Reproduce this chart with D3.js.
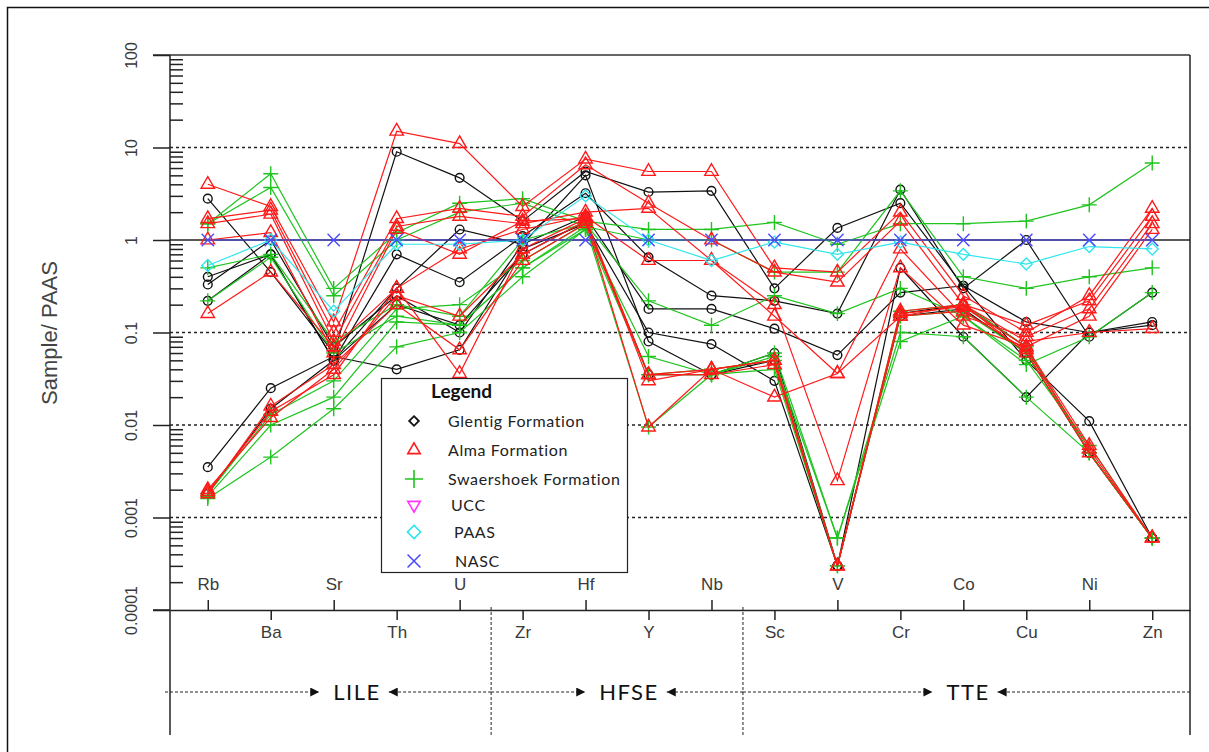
<!DOCTYPE html>
<html>
<head>
<meta charset="utf-8">
<title>Spider diagram normalised to PAAS</title>
<script src="https://cdn.jsdelivr.net/npm/d3@7"></script>
<style>
  body { margin: 0; background: #fff; }
  svg { display: block; }
</style>
</head>
<body>
<script>
// Elements along the x axis (normalised to PAAS)
var elements = ["Rb", "Ba", "Sr", "Th", "U", "Zr", "Hf", "Y", "Nb", "Sc", "V", "Cr", "Co", "Cu", "Ni", "Zn"];

// Glentig Formation samples
var glentig = [
  [2.8, 0.45, 0.06, 9.0, 4.7, 1.6, 5.5, 3.3, 3.4, 0.3, 1.35, 2.5, 0.32, 0.13, 0.1, 0.12],
  [0.4, 0.7, 0.05, 0.7, 0.35, 1.1, 3.2, 0.65, 0.25, 0.22, 0.16, 3.5, 0.3, 1.0, 0.09, 0.27],
  [0.33, 1.0, 0.07, 0.25, 0.1, 0.9, 1.8, 0.18, 0.18, 0.11, 0.057, 0.27, 0.32, 0.05, 0.011, 0.0006],
  [0.0035, 0.025, 0.055, 0.04, 0.065, 0.8, 1.5, 0.1, 0.075, 0.03, 0.0003, 0.5, 0.09, 0.02, 0.1, 0.13],
  [0.0018, 0.015, 0.05, 0.2, 0.12, 0.7, 1.6, 0.035, 0.035, 0.05, 0.0003, 0.16, 0.2, 0.07, 0.005, 0.0006],
  [0.22, 0.7, 0.05, 0.3, 1.3, 0.9, 5.0, 0.08, 0.035, 0.06, 0.0003, 0.15, 0.18, 0.06, 0.005, 0.0006]
];

// Alma Formation samples
var alma = [
  [4.0, 2.3, 0.13, 15, 11, 2.3, 7.5, 5.5, 5.5, 0.5, 0.45, 2.0, 0.25, 0.1, 0.25, 2.2],
  [1.7, 2.1, 0.1, 1.7, 2.2, 1.8, 6.5, 2.5, 1.0, 0.45, 0.35, 1.6, 0.2, 0.12, 0.22, 1.8],
  [1.5, 1.9, 0.08, 1.4, 1.8, 1.5, 2.0, 2.2, 0.6, 0.15, 0.036, 0.8, 0.15, 0.09, 0.18, 1.5],
  [0.16, 0.45, 0.07, 0.3, 0.8, 1.3, 1.8, 0.6, 0.6, 0.2, 0.0025, 0.5, 0.12, 0.07, 0.15, 1.3],
  [1.0, 1.2, 0.06, 1.3, 0.7, 1.6, 1.7, 0.03, 0.04, 0.02, 0.036, 0.15, 0.2, 0.08, 0.1, 0.11],
  [0.002, 0.012, 0.04, 0.25, 0.15, 0.7, 1.6, 0.0095, 0.04, 0.05, 0.0003, 0.16, 0.19, 0.07, 0.006, 0.0006],
  [0.0019, 0.014, 0.035, 0.3, 0.036, 0.8, 1.7, 0.035, 0.035, 0.045, 0.0003, 0.17, 0.2, 0.06, 0.005, 0.0006],
  [0.0018, 0.016, 0.045, 0.2, 0.065, 0.6, 1.5, 0.035, 0.04, 0.05, 0.0003, 0.15, 0.17, 0.065, 0.0055, 0.0006]
];

// Swaershoek Formation samples
var swaershoek = [
  [1.5, 5.2, 0.3, 1.2, 2.5, 2.8, 1.6, 1.3, 1.3, 1.55, 0.9, 1.5, 1.5, 1.6, 2.4, 6.8],
  [1.5, 3.7, 0.25, 1.0, 2.0, 2.5, 1.4, 1.0, 1.0, 0.45, 0.45, 3.4, 0.4, 0.3, 0.4, 0.5],
  [0.5, 0.7, 0.08, 0.2, 0.15, 1.0, 1.5, 0.22, 0.12, 0.25, 0.16, 0.3, 0.15, 0.045, 0.09, 0.27],
  [0.22, 0.65, 0.06, 0.15, 0.12, 0.5, 1.3, 0.055, 0.035, 0.06, 0.0006, 0.1, 0.09, 0.02, 0.005, 0.0006],
  [0.0016, 0.0045, 0.015, 0.07, 0.1, 0.4, 1.3, 0.035, 0.04, 0.05, 0.0006, 0.08, 0.15, 0.05, 0.006, 0.0006],
  [0.0017, 0.01, 0.02, 0.13, 0.12, 0.5, 1.4, 0.0095, 0.035, 0.04, 0.0003, 0.15, 0.17, 0.06, 0.005, 0.0006],
  [0.0018, 0.013, 0.03, 0.18, 0.2, 0.6, 1.5, 0.035, 0.035, 0.055, 0.0003, 0.17, 0.2, 0.07, 0.005, 0.0006]
];

// Reference compositions
var paas = [0.53, 1.0, 0.17, 0.9, 0.9, 1.0, 3.0, 1.0, 0.6, 0.95, 0.7, 0.95, 0.7, 0.55, 0.85, 0.8];
var nasc = [1, 1, 1, 1, 1, 1, 1, 1, 1, 1, 1, 1, 1, 1, 1, 1];

// Y axis ticks and their labels
var yTicks = [0.0001, 0.001, 0.01, 0.1, 1, 10, 100];
var yTickLabels = ["0.0001", "0.001", "0.01", "0.1", "1", "10", "100"];

// Element groups: name, first and last element index
var groupNames = ["LILE", "HFSE", "TTE"];
var groupStart = [0, 5, 9];
var groupEnd = [4, 8, 15];

// Legend entries
var legendNames = ["Glentig Formation", "Alma Formation", "Swaershoek Formation", "UCC", "PAAS", "NASC"];

// Set sizes
var width = 1209, height = 752;
var plot = {left: 170, right: 1190, top: 55, bottom: 610};

var svg = d3.select("body").append("svg")
    .attr("width", width)
    .attr("height", height);

// Outer picture frame
svg.append("path")
    .attr("d", "M7.5,760V7.5H1215")
    .attr("fill", "none")
    .attr("stroke", "#111")
    .attr("stroke-width", 1.5);

// Scales
var x = d3.scaleLinear().domain([-0.6, 15.6]).range([plot.left, plot.right]);
var y = d3.scaleLog().domain([0.0001, 100]).range([plot.bottom, plot.top]);

// Horizontal reference lines
var grid = svg.append("g");
grid.selectAll("line")
    .data(yTicks.filter(function(d) { return d > 0.0001 && d < 100; }))
    .enter().append("line")
    .attr("x1", plot.left).attr("x2", plot.right)
    .attr("y1", function(d) { return y(d); })
    .attr("y2", function(d) { return y(d); })
    .attr("stroke", "#222")
    .attr("stroke-width", function(d) { return d === 1 ? 1.3 : 1.6; })
    .attr("stroke-dasharray", function(d) { return d === 1 ? null : "3,3"; });

// Top border of the plot
svg.append("line")
    .attr("x1", plot.left - 17).attr("x2", plot.right)
    .attr("y1", plot.top).attr("y2", plot.top)
    .attr("stroke", "#333").attr("stroke-width", 1.5);

// Y axis, major ticks outside
var yAxis = d3.axisLeft(y)
    .tickValues(yTicks)
    .tickSize(17)
    .tickSizeOuter(0)
    .tickFormat(function(d, i) { return yTickLabels[i]; });
var yAxisG = svg.append("g")
    .attr("transform", "translate(" + plot.left + ",0)")
    .call(yAxis);
yAxisG.select(".domain").remove();
yAxisG.selectAll("line").attr("stroke", "#222").attr("stroke-width", 1.5);
yAxisG.selectAll(".tick text")
    .attr("x", 0).attr("y", 0).attr("dy", "0.35em")
    .attr("transform", "translate(-39,0) rotate(-90)")
    .attr("text-anchor", "middle")
    .style("font-family", "'Liberation Sans', Arial, sans-serif")
    .style("font-size", "16px")
    .attr("fill", "#3a3a3a");

// Minor ticks inside the plot
var minorTicks = [];
yTicks.slice(0, -1).forEach(function(dec) {
  for (var m = 2; m <= 9; m++) minorTicks.push(dec * m);
});
var minorAxis = d3.axisRight(y)
    .tickValues(minorTicks)
    .tickSize(13)
    .tickSizeOuter(0)
    .tickFormat("");
var minorG = svg.append("g")
    .attr("transform", "translate(" + plot.left + ",0)")
    .call(minorAxis);
minorG.select(".domain").remove();
minorG.selectAll("line").attr("stroke", "#222").attr("stroke-width", 1.5);

// Y axis title
svg.append("text")
    .attr("transform", "translate(57,333) rotate(-90)")
    .attr("text-anchor", "middle")
    .style("font-family", "'Liberation Sans', Arial, sans-serif")
    .style("font-size", "22px")
    .attr("fill", "#444")
    .text("Sample/ PAAS");

// Vertical frame lines, running down below the axis
svg.append("line")
    .attr("x1", plot.left).attr("x2", plot.left)
    .attr("y1", plot.top).attr("y2", 735)
    .attr("stroke", "#222").attr("stroke-width", 1.5);
svg.append("line")
    .attr("x1", plot.right).attr("x2", plot.right)
    .attr("y1", plot.top).attr("y2", 735)
    .attr("stroke", "#222").attr("stroke-width", 1.5);

// Dashed separators between element groups
svg.selectAll(".sep")
    .data(groupEnd.slice(0, -1))
    .enter().append("line")
    .attr("class", "sep")
    .attr("x1", function(d) { return x(d + 0.5); })
    .attr("x2", function(d) { return x(d + 0.5); })
    .attr("y1", plot.bottom - 3).attr("y2", 735)
    .attr("stroke", "#222").attr("stroke-width", 1)
    .attr("stroke-dasharray", "3,2");

// Series lines and markers
var line = d3.line()
    .x(function(d, i) { return x(i); })
    .y(function(d) { return y(d); });

var symTri = d3.symbolTriangle2 || d3.symbolTriangle;
var symPlus = d3.symbolPlus || d3.symbolCross;
var symTimes = d3.symbolTimes || d3.symbolX || d3.symbolCross;
var symDiamond = d3.symbolDiamond2 || d3.symbolDiamond;

function drawSeries(rows, color, type, size, rotate) {
  var g = svg.append("g");
  rows.forEach(function(row) {
    g.append("path")
      .attr("d", line(row))
      .attr("fill", "none")
      .attr("stroke", color)
      .attr("stroke-width", 1.2);
  });
  rows.forEach(function(row) {
    g.selectAll(null)
      .data(row)
      .enter().append("path")
      .attr("d", d3.symbol().type(type).size(size))
      .attr("transform", function(d, i) {
        return "translate(" + x(i) + "," + y(d) + ")" + (rotate ? " rotate(" + rotate + ")" : "");
      })
      .attr("fill", "none")
      .attr("stroke", color)
      .attr("stroke-width", 1.4);
  });
}

drawSeries(glentig, "#111", d3.symbolCircle, 60);
drawSeries(swaershoek, "#1fc41f", symPlus, 75);
drawSeries(alma, "#ff1a1a", symTri, 130);
drawSeries([paas], "#2ee6ec", symDiamond, 90);
drawSeries([nasc], "#4a4aff", symTimes, 100, 0);

// X axis: labels alternate above and below the axis line
var topIdx = d3.range(0, elements.length, 2);
var botIdx = d3.range(1, elements.length, 2);

var xTop = d3.axisTop(x)
    .tickValues(topIdx)
    .tickSize(10)
    .tickSizeOuter(0)
    .tickPadding(10)
    .tickFormat(function(d) { return elements[d]; });
var xBot = d3.axisBottom(x)
    .tickValues(botIdx)
    .tickSize(10)
    .tickSizeOuter(0)
    .tickPadding(6)
    .tickFormat(function(d) { return elements[d]; });

var xTopG = svg.append("g").attr("transform", "translate(0," + plot.bottom + ")").call(xTop);
var xBotG = svg.append("g").attr("transform", "translate(0," + plot.bottom + ")").call(xBot);
xTopG.select(".domain").remove();
xBotG.select(".domain").attr("stroke", "#222").attr("stroke-width", 1.5);
[xTopG, xBotG].forEach(function(g) {
  g.selectAll("line").attr("stroke", "#222").attr("stroke-width", 1.5);
  g.selectAll("text")
    .style("font-family", "'Liberation Sans', Arial, sans-serif")
    .style("font-size", "17px")
    .attr("fill", "#3a3a3a");
});

// Extension of the bottom axis line to the left (0.0001 tick)
svg.append("line")
    .attr("x1", plot.left - 17).attr("x2", plot.left)
    .attr("y1", plot.bottom).attr("y2", plot.bottom)
    .attr("stroke", "#222").attr("stroke-width", 1.5);

// Group labels with dashed arrows
var defs = svg.append("defs");
defs.append("marker")
    .attr("id", "arrow")
    .attr("viewBox", "0 0 10 10")
    .attr("refX", 10).attr("refY", 5)
    .attr("markerWidth", 11).attr("markerHeight", 9)
    .attr("markerUnits", "userSpaceOnUse")
    .attr("orient", "auto")
    .append("path")
    .attr("d", "M0,0L10,5L0,10Z")
    .attr("fill", "#111");

var groupCenter = [357, 629, 968];
var arrowY = 692;
var groupLeft = [165, x(4.5), x(8.5)];
var groupRight = [x(4.5), x(8.5), plot.right];

groupNames.forEach(function(name, k) {
  var t = svg.append("text")
      .attr("x", groupCenter[k])
      .attr("y", arrowY)
      .attr("dy", "0.35em")
      .attr("text-anchor", "middle")
      .style("font-family", "Lato, 'Open Sans', sans-serif")
      .style("font-size", "22px")
      .style("letter-spacing", "1.5px")
      .attr("fill", "#111")
      .text(name);
  var w = t.node().getComputedTextLength();
  svg.append("line")
      .attr("x1", groupLeft[k]).attr("x2", groupCenter[k] - w / 2 - 14)
      .attr("y1", arrowY).attr("y2", arrowY)
      .attr("stroke", "#222").attr("stroke-width", 1)
      .attr("stroke-dasharray", "3,2")
      .attr("marker-end", "url(#arrow)");
  svg.append("line")
      .attr("x1", groupRight[k]).attr("x2", groupCenter[k] + w / 2 + 8)
      .attr("y1", arrowY).attr("y2", arrowY)
      .attr("stroke", "#222").attr("stroke-width", 1)
      .attr("stroke-dasharray", "3,2")
      .attr("marker-end", "url(#arrow)");
});

// Legend box
var legend = svg.append("g");
legend.append("rect")
    .attr("x", 381.5).attr("y", 378.5)
    .attr("width", 246).attr("height", 194)
    .attr("fill", "#fff")
    .attr("stroke", "#222").attr("stroke-width", 1.2);
legend.append("text")
    .attr("x", 431).attr("y", 391)
    .attr("dy", "0.35em")
    .style("font-family", "Lato, 'Open Sans', sans-serif")
    .style("font-size", "19px")
    .style("font-weight", "bold")
    .attr("fill", "#111")
    .text("Legend");

var legendColors = ["#111", "#ff1a1a", "#1fc41f", "#ff33ff", "#2ee6ec", "#4a4aff"];
var legendTypes = [symDiamond, symTri, symPlus, symTri, symDiamond, symTimes];
var legendSizes = [60, 110, 110, 110, 110, 110];
var legendRot = [0, 0, 0, 180, 0, 0];
var legendRowY = [421, 450, 479, 505, 532, 561];
var legendTextX = [448, 448, 448, 451, 454, 455];

legend.selectAll(".lsym")
    .data(legendNames)
    .enter().append("path")
    .attr("class", "lsym")
    .attr("d", function(d, i) { return d3.symbol().type(legendTypes[i]).size(legendSizes[i])(); })
    .attr("transform", function(d, i) {
      return "translate(414," + legendRowY[i] + ") rotate(" + legendRot[i] + ")";
    })
    .attr("fill", "none")
    .attr("stroke", function(d, i) { return legendColors[i]; })
    .attr("stroke-width", function(d, i) { return i === 0 ? 1.8 : 1.6; });

legend.selectAll(".ltext")
    .data(legendNames)
    .enter().append("text")
    .attr("class", "ltext")
    .attr("x", function(d, i) { return legendTextX[i]; })
    .attr("y", function(d, i) { return legendRowY[i]; })
    .attr("dy", "0.35em")
    .style("font-family", "Lato, 'Open Sans', sans-serif")
    .style("font-size", "16px")
    .style("letter-spacing", "0.6px")
    .attr("fill", "#222")
    .text(function(d) { return d; });
</script>
</body>
</html>
